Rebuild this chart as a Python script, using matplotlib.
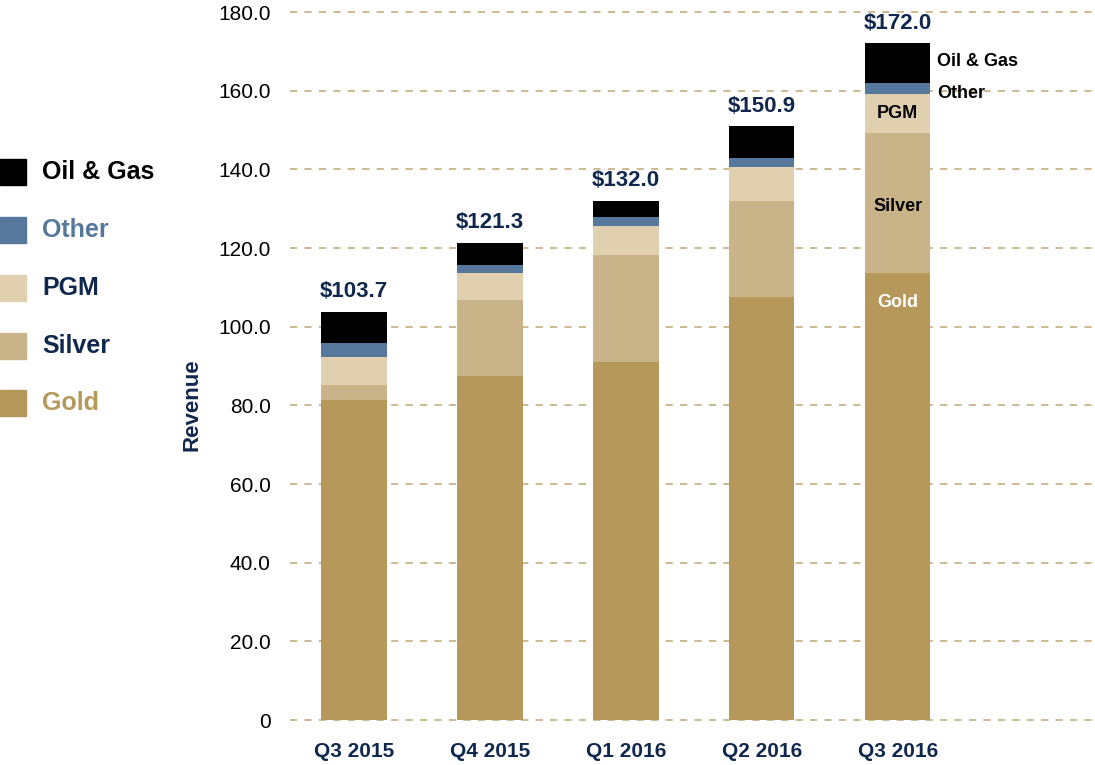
import matplotlib
matplotlib.use("Agg")
import matplotlib.pyplot as plt
from matplotlib import font_manager

quarters = ["Q3 2015", "Q4 2015", "Q1 2016", "Q2 2016", "Q3 2016"]
gold = [81.4, 87.5, 91.0, 107.6, 113.7]
silver = [3.7, 19.2, 27.2, 24.4, 35.5]
pgm = [7.2, 7.0, 7.5, 8.7, 10.0]
other = [3.5, 2.1, 2.2, 2.2, 2.8]
oil_gas = [7.9, 5.5, 4.1, 8.0, 10.0]
totals = [103.7, 121.3, 132.0, 150.9, 172.0]
yticks = [0, 20, 40, 60, 80, 100, 120, 140, 160, 180]

names = [f.name for f in font_manager.fontManager.ttflist]
fam = ["Liberation Sans Narrow", "DejaVu Sans"] if "Liberation Sans Narrow" in names else ["Liberation Sans", "DejaVu Sans"]
plt.rcParams["font.family"] = fam

NAVY = "#10284d"
C_GOLD = "#b5985a"
C_SILVER = "#c9b48a"
C_PGM = "#e0d0b0"
C_OTHER = "#56789c"
C_OIL = "#000000"
GRID = "#c8b48a"

fig = plt.figure(figsize=(10.95, 7.65), dpi=100)
ax = fig.add_axes([290/1095, 1-720/765, (1095-290)/1095, (720-12)/765])

x = list(range(len(quarters)))
w = 0.48
series = [("Gold", gold, C_GOLD), ("Silver", silver, C_SILVER), ("PGM", pgm, C_PGM),
          ("Other", other, C_OTHER), ("Oil & Gas", oil_gas, C_OIL)]
bottom = [0.0]*len(x)
for name, vals, col in series:
    ax.bar(x, vals, w, bottom=bottom, color=col, zorder=3, linewidth=0)
    bottom = [b+v for b, v in zip(bottom, vals)]

for xi, t in zip(x, totals):
    ax.text(xi, t + 2.5, f"${t:.1f}", ha="center", va="bottom", fontsize=16,
            fontweight="bold", color=NAVY)

# labels on last bar
i = len(x) - 1
g, s, p, o, og = gold[i], silver[i], pgm[i], other[i], oil_gas[i]
ax.text(i, g - 7.5, "Gold", ha="center", va="center", fontsize=13, fontweight="bold", color="white", zorder=4)
ax.text(i, g + s/2 - 1, "Silver", ha="center", va="center", fontsize=13, fontweight="bold", color="black", zorder=4)
ax.text(i, g + s + p/2, "PGM", ha="center", va="center", fontsize=13, fontweight="bold", color="black", zorder=4)
ax.text(i + w/2 + 0.05, g + s + p + o/2 - 1.3, "Other", ha="left", va="center", fontsize=13, fontweight="bold", color="black", zorder=4)
ax.text(i + w/2 + 0.05, g + s + p + o + og/2 + 0.3, "Oil & Gas", ha="left", va="center", fontsize=13, fontweight="bold", color="black", zorder=4)

ax.set_xlim(-0.47, 5.45)
ax.set_ylim(0, 180)
ax.set_yticks(yticks)
ax.set_yticklabels(["0"] + [f"{v:.1f}" for v in yticks[1:]], fontsize=15, color="black")
ax.set_xticks(x)
ax.set_xticklabels(quarters, fontsize=15, fontweight="bold", color=NAVY)
ax.tick_params(axis="both", length=0)
ax.tick_params(axis="y", pad=14)
ax.tick_params(axis="x", pad=16)
for sp in ax.spines.values():
    sp.set_visible(False)
for yt in yticks:
    ax.axhline(yt, color=GRID, linestyle=(0, (4, 4)), linewidth=1.3, zorder=0, clip_on=False)

fig.text(192/1095, 1-405/765, "Revenue", rotation=90, ha="center", va="center",
         fontsize=16, fontweight="bold", color=NAVY)

# legend
leg_items = [("Oil & Gas", C_OIL, "black"), ("Other", C_OTHER, C_OTHER), ("PGM", C_PGM, NAVY),
             ("Silver", C_SILVER, NAVY), ("Gold", C_GOLD, C_GOLD)]
ys = [172, 230, 288, 346, 403]
for (lab, col, tcol), yy in zip(leg_items, ys):
    fig.patches.append(plt.Rectangle((0, 1-(yy+13)/765), 26/1095, 26/765, transform=fig.transFigure,
                                     color=col, zorder=3))
    fig.text(42/1095, 1-yy/765, lab, ha="left", va="center", fontsize=18, fontweight="bold", color=tcol)

fig.savefig("out.png", dpi=100)
